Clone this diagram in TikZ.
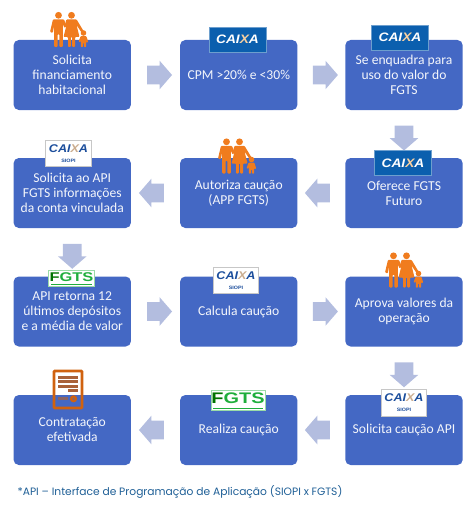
\documentclass[tikz,border=0pt]{standalone}
\usepackage{fontspec}
\setmainfont{Carlito}
\newfontfamily\logofont[FakeStretch=1.12]{Liberation Sans}
\newfontfamily\fgtsfont[FakeStretch=1.3]{Liberation Sans}
\newfontfamily\footfont{Poppins}
\usetikzlibrary{shapes.arrows}
\definecolor{boxblue}{HTML}{4468C4}
\definecolor{arrowblue}{HTML}{B3BDDF}
\definecolor{famorange}{HTML}{F07C1E}
\definecolor{caixablue}{HTML}{0B5FAE}
\definecolor{siopiblue}{HTML}{1C4E9C}
\definecolor{caixaorange}{HTML}{F5C48A}
\definecolor{fgtsgreen}{HTML}{1FAE3C}
\definecolor{footblue}{HTML}{1F5F96}
\definecolor{docorange}{HTML}{D0620F}
\definecolor{docbrown}{HTML}{A9623A}
\newcommand{\caixaword}[1]{{\logofont\bfseries\itshape\textcolor{#1}{CAI}\textcolor{caixaorange!80!#1}{X}\textcolor{#1}{A}}}
\newcommand{\fgtsword}{{\fgtsfont\bfseries\textcolor{green!45!black}{F}GTS}}
\tikzset{
  x=0.75pt,y=-0.75pt,
  stepbox/.style={fill=boxblue,rounded corners=4pt,minimum width=88.1pt,minimum height=52.5pt,
    inner sep=0pt,align=center,text=white!94!boxblue,font=\fontsize{10.2}{11.25}\selectfont},
  blockarrow/.style={single arrow,fill=arrowblue,minimum height=18.75pt,
    single arrow head extend=3.75pt,single arrow tip angle=98,inner xsep=0pt,inner ysep=6.75pt,anchor=center},
  vblockarrow/.style={blockarrow,inner xsep=6.75pt,inner ysep=0pt,shape border rotate=270},
  caixalogo/.style={fill=caixablue,draw=caixablue!60!white,line width=.4pt,minimum width=42.5pt,minimum height=19pt,
    inner sep=0pt,font=\fontsize{9.2}{10}\selectfont},
  siopilogo/.style={fill=white,draw=black!22,line width=.6pt,minimum width=34pt,minimum height=20pt,
    inner sep=0pt,align=center,font=\fontsize{8.4}{6}\selectfont},
  fgtslogo/.style={fill=white,draw=fgtsgreen!45,line width=.6pt,inner sep=0pt,text=fgtsgreen},
  family/.pic={
    \fill[famorange] (8.5,3.3) circle[radius=3.4];
    \fill[famorange] (21.5,3.3) circle[radius=3.4];
    \fill[famorange] (33.5,21) circle[radius=2.8];
    \fill[famorange,rounded corners=.7pt] (3,7.3) -- (14,7.3) -- (16.5,14) -- (14.5,16) -- (12.8,12) -- (12.8,35) -- (9.4,35) -- (9.4,22) -- (7.6,22) -- (7.6,35) -- (4.2,35) -- (4.2,13) -- (2.8,21) -- (0,20) -- cycle;
    \fill[famorange,rounded corners=.7pt] (16.5,7.3) -- (26.5,7.3) -- (33.5,19) -- (31.5,20.5) -- (26.5,13) -- (29.5,25) -- (25,25) -- (25,35) -- (22.2,35) -- (22.2,25) -- (20.8,25) -- (20.8,35) -- (18,35) -- (18,25) -- (13.5,25) -- (16.5,13) -- (14,16) -- cycle;
    \fill[famorange,rounded corners=.5pt] (30.6,24.2) -- (36.4,24.2) -- (38.2,30) -- (36.6,30.8) -- (36.2,28.5) -- (36.2,35) -- (34,35) -- (34,31) -- (33,31) -- (33,35) -- (30.8,35) -- (30.8,28.5) -- (30,30.4) -- (28.6,29.5) -- cycle;
  }
}
\begin{document}
\begin{tikzpicture}
\useasboundingbox (0,0) rectangle (474,510);
% steps
\node[stepbox] (a1) at (72.25,75) {Solicita\\financiamento\\habitacional};
\node[stepbox] (a2) at (238.75,75) {CPM >20\% e <30\%};
\node[stepbox] (a3) at (404,75) {Se enquadra para\\uso do valor do\\FGTS};
\node[stepbox] (b3) at (404,193) {Oferece FGTS\\Futuro};
\node[stepbox] (b2) at (238.75,193) {Autoriza caução\\(APP FGTS)};
\node[stepbox] (b1) at (72.25,193) {Solicita ao API\\FGTS informações\\da conta vinculada};
\node[stepbox] (c1) at (72.25,311.5) {API retorna 12\\últimos depósitos\\e a média de valor};
\node[stepbox] (c2) at (238.75,311.5) {Calcula caução};
\node[stepbox] (c3) at (404,311.5) {Aprova valores da\\operação};
\node[stepbox] (d3) at (404,430) {Solicita caução API};
\node[stepbox] (d2) at (238.75,430) {Realiza caução};
\node[stepbox] (d1) at (72.25,430) {Contratação\\efetivada};
% connectors
\path (a1) -- node[blockarrow] (ar1) {} (a2);
\path (a2) -- node[blockarrow] (ar2) {} (a3);
\path (a3) -- node[vblockarrow] (ar3) {} (b3);
\path (b3) -- node[blockarrow,shape border rotate=180] (ar4) {} (b2);
\path (b2) -- node[blockarrow,shape border rotate=180] (ar5) {} (b1);
\path (b1) -- node[vblockarrow] (ar6) {} (c1);
\path (c1) -- node[blockarrow] (ar7) {} (c2);
\path (c2) -- node[blockarrow] (ar8) {} (c3);
\path (c3) -- node[vblockarrow] (ar9) {} (d3);
\path (d3) -- node[blockarrow,shape border rotate=180] (ar10) {} (d2);
\path (d2) -- node[blockarrow,shape border rotate=180] (ar11) {} (d1);
% family icons
\pic at (50,12) {family};
\pic at (218,138.5) {family};
\pic at (385,252.5) {family};
% caixa logos
\node[caixalogo] (l1) at (237.5,39.5) {\caixaword{white}};
\node[caixalogo] (l2) at (400,37.5) {\caixaword{white}};
\node[caixalogo] (l3) at (403,163) {\caixaword{white}};
% siopi logos
\node[siopilogo] (s1) at (68.5,153.5) {\caixaword{siopiblue}\\[1.5pt]{\logofont\bfseries\fontsize{3.6}{3.6}\selectfont\textcolor{siopiblue}{SIOPI}}};
\node[siopilogo] (s2) at (236,280.5) {\caixaword{siopiblue}\\[1.5pt]{\logofont\bfseries\fontsize{3.6}{3.6}\selectfont\textcolor{siopiblue}{SIOPI}}};
\node[siopilogo] (s3) at (404,403) {\caixaword{siopiblue}\\[1.5pt]{\logofont\bfseries\fontsize{3.6}{3.6}\selectfont\textcolor{siopiblue}{SIOPI}}};
% fgts logos
\node[fgtslogo,minimum width=34pt,minimum height=12pt,font=\fontsize{9.5}{9.5}\selectfont,text depth=1.8pt,text height=6.5pt] (f1) at (71.5,278) {\fgtsword};
\draw[fgtsgreen,line width=.7pt] ([xshift=2pt,yshift=1.2pt]f1.south west) -- ([xshift=-2pt,yshift=1.2pt]f1.south east);
\node[fgtslogo,minimum width=40.5pt,minimum height=15pt,font=\fontsize{11.5}{12}\selectfont,text depth=2.4pt,text height=8pt] (f2) at (238,400) {\fgtsword};
\draw[fgtsgreen,line width=.7pt] ([xshift=2pt,yshift=1.4pt]f2.south west) -- ([xshift=-2pt,yshift=1.4pt]f2.south east);
% contract icon
\fill[white] (53,370) rectangle (83,395);
\draw[docorange,line width=1.9pt,rounded corners=.5pt] (54,371) rectangle (82,408);
\fill[docbrown] (58,375.5) rectangle (77.5,378.5);
\fill[docbrown] (58,380) rectangle (77.5,383);
\fill[docbrown] (58,384.5) rectangle (77.5,387.5);
\fill[docbrown] (67.5,388.5) rectangle (77.5,391.5);
\fill[docbrown!70!boxblue] (58,397) rectangle (67.5,400);
\fill[docorange] (73.5,398.8) circle[radius=3.6];
\fill[boxblue!60!docorange] (73.5,398.8) circle[radius=1.2];
% footnote
\node[font=\footfont\fontsize{8.02}{9}\selectfont,text=footblue,inner sep=0pt] (note) at (180,492) {*API – Interface de Programação de Aplicação (SIOPI x FGTS)};
\end{tikzpicture}
\end{document}
